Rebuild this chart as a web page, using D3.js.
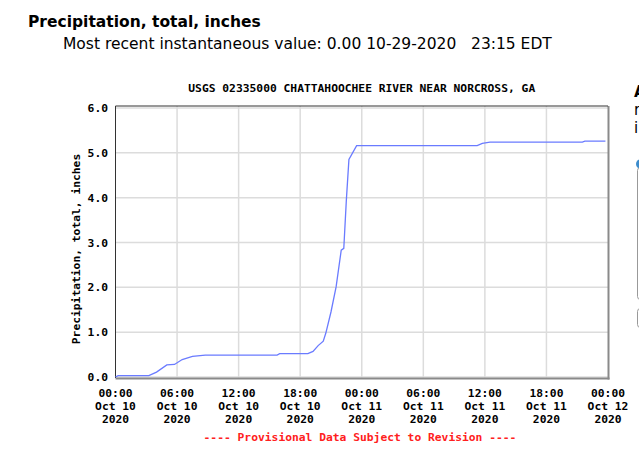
<!DOCTYPE html>
<html lang="en">
<head>
    <meta charset="UTF-8">
    <script src="https://cdn.jsdelivr.net/npm/d3@7"></script>
    <title>Precipitation, total, inches</title>
    <style>
        body { margin: 0; background: white; }
        .mono { font-family: "DejaVu Sans Mono", monospace; font-weight: bold; font-size: 11.3px; }
        .grid line { stroke: #dcdcdc; stroke-width: 1.5px; }
    </style>
</head>
<body>
    <div class="fig"></div>
    <script>
        // readings, EDT
        const times = [
            "2020-10-10 00:00", "2020-10-10 00:15", "2020-10-10 03:15", "2020-10-10 04:00",
            "2020-10-10 05:00", "2020-10-10 05:45", "2020-10-10 06:30", "2020-10-10 07:30",
            "2020-10-10 08:45", "2020-10-10 15:45", "2020-10-10 16:00", "2020-10-10 18:45",
            "2020-10-10 19:15", "2020-10-10 19:45", "2020-10-10 20:15", "2020-10-10 20:30",
            "2020-10-10 21:00", "2020-10-10 21:30", "2020-10-10 22:00", "2020-10-10 22:15",
            "2020-10-10 22:30", "2020-10-10 22:45", "2020-10-10 23:30", "2020-10-11 11:15",
            "2020-10-11 11:45", "2020-10-11 12:30", "2020-10-11 21:30", "2020-10-11 21:45",
            "2020-10-11 23:45"
        ];
        const precip = [
            0.00, 0.03, 0.03, 0.11,
            0.27, 0.28, 0.39, 0.46,
            0.49, 0.49, 0.52, 0.52,
            0.57, 0.70, 0.80, 0.98,
            1.45, 2.01, 2.83, 2.87,
            3.95, 4.85, 5.16, 5.16,
            5.21, 5.24, 5.24, 5.26,
            5.26
        ];
        const yTicks = [0, 1, 2, 3, 4, 5, 6];
        const xStart = "2020-10-10 00:00";
        const xEnd = "2020-10-12 00:00";

        const pageTitle = "Precipitation, total, inches";
        const pageSubtitle = "Most recent instantaneous value: 0.00 10-29-2020   23:15 EDT";
        const chartTitle = "USGS 02335000 CHATTAHOOCHEE RIVER NEAR NORCROSS, GA";
        const yLabel = "Precipitation, total, inches";
        const footer = "---- Provisional Data Subject to Revision ----";

        const width = 639, height = 450;
        const parse = d3.timeParse("%Y-%m-%d %H:%M");
        const data = times.map((t, i) => ({ t: parse(t), v: precip[i] }));

        const svg = d3.select(".fig").append("svg")
            .attr("width", width)
            .attr("height", height);

        const plot = { left: 115.5, right: 608, top: 106, bottom: 378 };

        const x = d3.scaleTime()
            .domain([parse(xStart), parse(xEnd)])
            .range([plot.left, plot.right]);
        const y = d3.scaleLinear()
            .domain([0, 6])
            .range([377, 108]);

        const xTicks = d3.timeHour.every(6).range(parse(xStart), d3.timeMinute.offset(parse(xEnd), 1));

        // page heading
        svg.append("text")
            .attr("x", 28).attr("y", 27)
            .style("font-family", "'DejaVu Sans', Verdana, sans-serif")
            .style("font-weight", "bold")
            .style("font-size", "15.5px")
            .text(pageTitle);
        svg.append("text")
            .attr("x", 63).attr("y", 49)
            .style("font-family", "'DejaVu Sans', Verdana, sans-serif")
            .style("font-size", "15.5px")
            .style("white-space", "pre")
            .text(pageSubtitle);

        // grid
        const grid = svg.append("g").attr("class", "grid");
        grid.selectAll(".gx")
            .data(xTicks.slice(1, -1))
            .enter().append("line")
            .attr("x1", d => x(d)).attr("x2", d => x(d))
            .attr("y1", plot.top).attr("y2", plot.bottom);
        grid.selectAll(".gy")
            .data(yTicks)
            .enter().append("line")
            .attr("x1", plot.left).attr("x2", plot.right)
            .attr("y1", d => y(d)).attr("y2", d => y(d));

        // frame: dark top/left, grey shadow right/bottom
        svg.append("line").attr("x1", plot.right + 0.5).attr("x2", plot.right + 0.5)
            .attr("y1", plot.top).attr("y2", plot.bottom + 1.5)
            .attr("stroke", "#8a8a8a").attr("stroke-width", 2);
        svg.append("line").attr("x1", plot.left).attr("x2", plot.right + 1.5)
            .attr("y1", plot.bottom + 0.5).attr("y2", plot.bottom + 0.5)
            .attr("stroke", "#8a8a8a").attr("stroke-width", 2);
        svg.append("line").attr("x1", plot.left).attr("x2", plot.right)
            .attr("y1", plot.top).attr("y2", plot.top)
            .attr("stroke", "#333").attr("stroke-width", 1);
        svg.append("line").attr("x1", plot.left).attr("x2", plot.left)
            .attr("y1", plot.top).attr("y2", plot.bottom)
            .attr("stroke", "#333").attr("stroke-width", 1);

        // series
        const line = d3.line().x(d => x(d.t)).y(d => y(d.v));
        svg.append("path")
            .datum(data)
            .attr("d", line)
            .attr("fill", "none")
            .attr("stroke", "#6a7bff")
            .attr("stroke-width", 1.3);

        // y tick labels
        svg.selectAll(".ylab")
            .data(yTicks)
            .enter().append("text")
            .attr("class", "mono")
            .attr("x", 108)
            .attr("y", d => y(d) + 4)
            .attr("text-anchor", "end")
            .text(d => d3.format(".1f")(d));

        // x tick labels, three rows
        const fmtRows = [d3.timeFormat("%H:%M"), d3.timeFormat("%b %d"), d3.timeFormat("%Y")];
        const xl = svg.selectAll(".xlab")
            .data(xTicks)
            .enter().append("text")
            .attr("class", "mono")
            .attr("text-anchor", "middle");
        fmtRows.forEach((f, i) => {
            xl.append("tspan")
                .attr("x", d => x(d))
                .attr("y", 397 + i * 13)
                .text(d => f(d));
        });

        // chart title, axis label, footer
        svg.append("text")
            .attr("class", "mono")
            .attr("x", (plot.left + plot.right) / 2)
            .attr("y", 92)
            .attr("text-anchor", "middle")
            .text(chartTitle);
        svg.append("text")
            .attr("class", "mono")
            .attr("transform", "translate(80, 249) rotate(-90)")
            .attr("text-anchor", "middle")
            .text(yLabel);
        svg.append("text")
            .attr("class", "mono")
            .attr("x", 360)
            .attr("y", 441)
            .attr("text-anchor", "middle")
            .attr("fill", "#ff2020")
            .text(footer);

        // clipped sidebar at right edge of page
        const side = svg.append("g").style("font-family", "'DejaVu Sans', Verdana, sans-serif").style("font-size", "15px");
        side.append("text").attr("x", 634).attr("y", 97).style("font-weight", "bold").text("A");
        side.append("text").attr("x", 634).attr("y", 115).text("r");
        side.append("text").attr("x", 634).attr("y", 133).text("i");
        side.append("circle").attr("cx", 641).attr("cy", 164).attr("r", 5).attr("fill", "#3d8ccc");
        side.append("rect").attr("x", 637.5).attr("y", 167.5).attr("width", 20).attr("height", 132)
            .attr("rx", 3).attr("fill", "none").attr("stroke", "#999");
        side.append("rect").attr("x", 637.5).attr("y", 308.5).attr("width", 20).attr("height", 19)
            .attr("rx", 3).attr("fill", "none").attr("stroke", "#999");
    </script>
</body>
</html>
